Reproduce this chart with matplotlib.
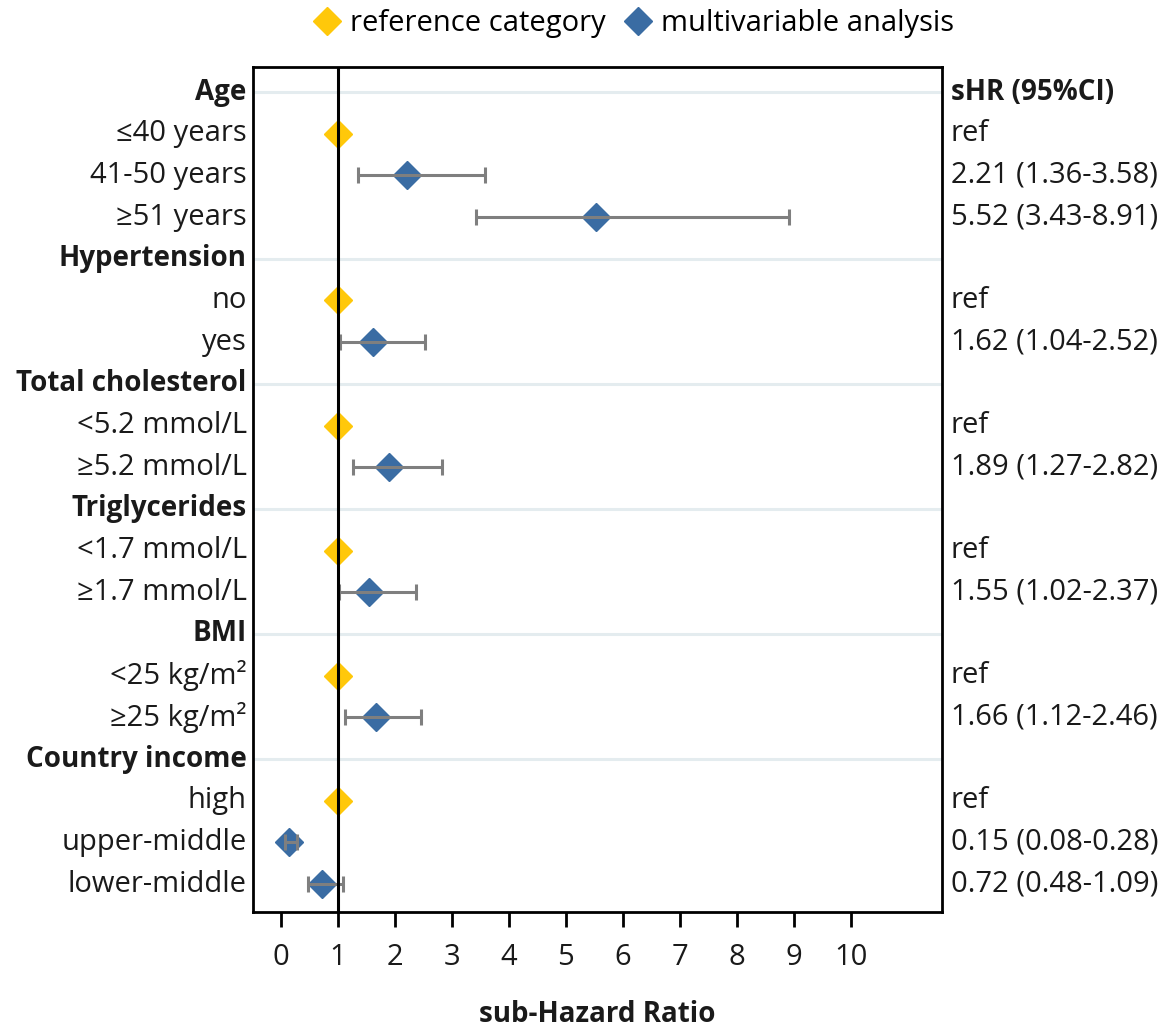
import numpy as np
import matplotlib
matplotlib.use("Agg")
import matplotlib.pyplot as plt
from matplotlib.lines import Line2D

plt.rcParams['font.family'] = ['Open Sans', 'DejaVu Sans']

labels = ["Age", "≤40 years", "41-50 years", "≥51 years",
          "Hypertension", "no", "yes",
          "Total cholesterol", "<5.2 mmol/L", "≥5.2 mmol/L",
          "Triglycerides", "<1.7 mmol/L", "≥1.7 mmol/L",
          "BMI", "<25 kg/m²", "≥25 kg/m²",
          "Country income", "high", "upper-middle", "lower-middle"]
kinds = ["header", "ref", "est", "est",
         "header", "ref", "est",
         "header", "ref", "est",
         "header", "ref", "est",
         "header", "ref", "est",
         "header", "ref", "est", "est"]
hr = [np.nan, 1, 2.21, 5.52,
      np.nan, 1, 1.62,
      np.nan, 1, 1.89,
      np.nan, 1, 1.55,
      np.nan, 1, 1.66,
      np.nan, 1, 0.15, 0.72]
ci_lo = [np.nan, np.nan, 1.36, 3.43,
         np.nan, np.nan, 1.04,
         np.nan, np.nan, 1.27,
         np.nan, np.nan, 1.02,
         np.nan, np.nan, 1.12,
         np.nan, np.nan, 0.08, 0.48]
ci_hi = [np.nan, np.nan, 3.58, 8.91,
         np.nan, np.nan, 2.52,
         np.nan, np.nan, 2.82,
         np.nan, np.nan, 2.37,
         np.nan, np.nan, 2.46,
         np.nan, np.nan, 0.28, 1.09]
xticks = [0, 1, 2, 3, 4, 5, 6, 7, 8, 9, 10]

YELLOW = "#FFC80A"
BLUE = "#3A6CA3"
GRAY = "#7F7F7F"
TXT = "#1a1a1a"
FS = 21
FSB = 20

fig = plt.figure(figsize=(11.73, 10.28), dpi=100)
ax = fig.add_axes([253/1173, 1 - 912/1028, 689/1173, 845/1028])

n = len(labels)
ys = np.arange(n)
hr_a = np.array(hr, dtype=float)
lo_a = np.array(ci_lo, dtype=float)
hi_a = np.array(ci_hi, dtype=float)
kinds_a = np.array(kinds)

# header separator lines
for y, k in zip(ys, kinds):
    if k == "header":
        ax.axhline(y, color="#E4ECEF", lw=2.2, zorder=0)

est = kinds_a == "est"
ref = kinds_a == "ref"

ax.errorbar(hr_a[est], ys[est],
            xerr=[hr_a[est] - lo_a[est], hi_a[est] - hr_a[est]],
            fmt="none", ecolor=GRAY, elinewidth=2.2, capsize=6, capthick=2.2, zorder=4)
ax.plot(hr_a[est], ys[est], ls="none", marker="D", ms=14, color=BLUE, zorder=3)
ax.plot(hr_a[ref], ys[ref], ls="none", marker="D", ms=14, color=YELLOW, zorder=3)

ax.axvline(1, color="black", lw=2.2, zorder=5)

ax.set_xlim(-0.49, 11.6)
ax.set_ylim(n - 1 + 0.67, -0.6)
ax.set_xticks(xticks)
ax.set_xticklabels([str(t) for t in xticks], fontsize=FS, color=TXT)
ax.tick_params(axis="x", direction="out", length=11, width=2, pad=11)
ax.set_yticks([])
for s in ax.spines.values():
    s.set_linewidth(2)
    s.set_color("black")

# left labels
for y, lab, k in zip(ys, labels, kinds):
    hdr = k == "header"
    ax.text(-0.6, y, lab, ha="right", va="center", fontsize=FSB if hdr else FS, color=TXT,
            fontweight="bold" if hdr else "normal")

# right labels
for i, (y, k) in enumerate(zip(ys, kinds)):
    if i == 0:
        t, w, f = "sHR (95%CI)", "bold", FSB
    elif k == "header":
        continue
    elif k == "ref":
        t, w, f = "ref", "normal", FS
    else:
        t, w, f = f"{hr_a[i]:.2f} ({lo_a[i]:.2f}-{hi_a[i]:.2f})", "normal", FS
    ax.text(1.013, y, t, transform=ax.get_yaxis_transform(), ha="left", va="center",
            fontsize=f, color=TXT, fontweight=w)

ax.set_xlabel("sub-Hazard Ratio", fontsize=FSB, fontweight="bold", color=TXT)
ax.xaxis.set_label_coords(0.50, -0.104)

handles = [Line2D([], [], ls="none", marker="D", ms=14, color=YELLOW),
           Line2D([], [], ls="none", marker="D", ms=14, color=BLUE)]
fig.legend(handles, ["reference category", "multivariable analysis"], loc="center",
           bbox_to_anchor=(0.54, 1 - 24/1028), ncol=2, frameon=False, fontsize=FS,
           handletextpad=0.3, columnspacing=0.6, handlelength=1.0, borderpad=0.1)

fig.savefig("out.png", dpi=100, facecolor="white")
